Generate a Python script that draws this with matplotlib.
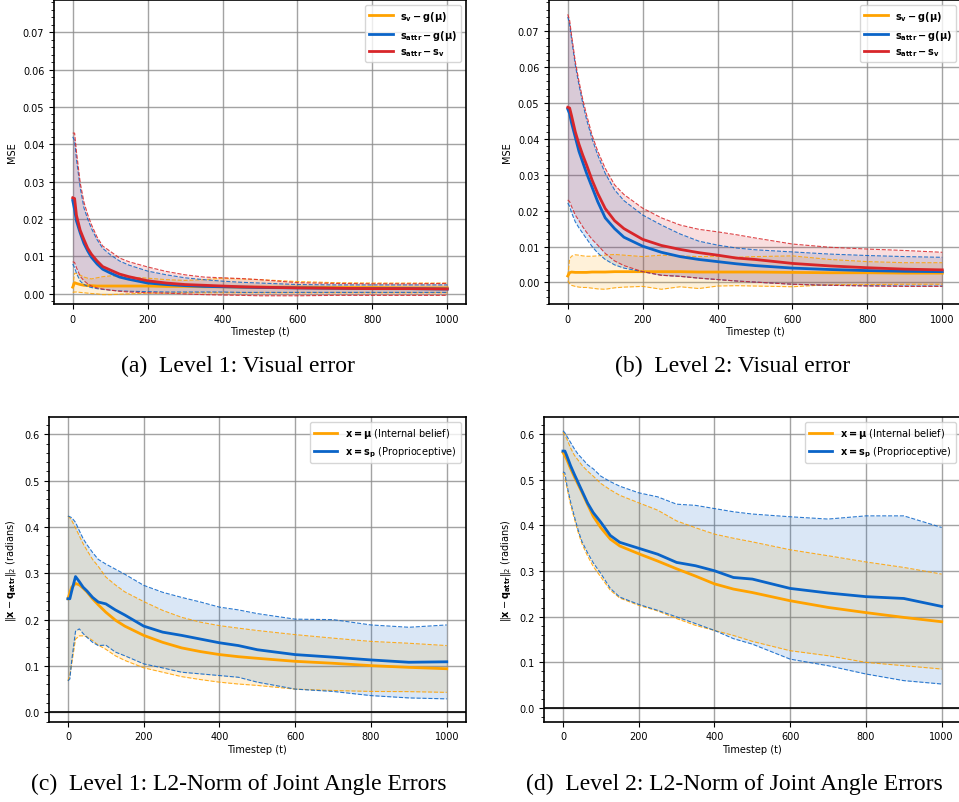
import matplotlib
matplotlib.use("Agg")
import matplotlib.pyplot as plt
from matplotlib.ticker import AutoMinorLocator

# timesteps at which the curves were sampled
t = [0, 5, 10, 20, 30, 40, 50, 65, 80, 100, 125, 150, 200, 250, 300, 350,
     400, 450, 500, 600, 700, 800, 900, 1000]

# Level 1 visual error (MSE): mean, min, max
a_sv_g = [.0018, .0030, .0028, .0025, .0023, .0022, .0022, .0021, .0021, .0021, .0021, .0021,
          .0021, .0020, .0020, .0019, .0019, .0018, .0018, .0018, .0017, .0017, .0016, .0016]
a_sv_g_lo = [.0004, .0005, .0005, .0004, .0003, .0002, .0001, .0000, -.0002, -.0002, -.0001, .0000,
             .0002, .0002, .0003, .0003, .0003, .0003, .0003, .0003, .0003, .0003, .0003, .0003]
a_sv_g_hi = [.0020, .0055, .0055, .0050, .0045, .0042, .0040, .0043, .0046, .0048, .0047, .0045,
             .0042, .0038, .0036, .0038, .0042, .0040, .0038, .0033, .0030, .0029, .0029, .0029]
a_sattr_g = [.0250, .0225, .0195, .0163, .0135, .0115, .0098, .0080, .0066, .0056, .0045, .0039,
             .0029, .0025, .0022, .0020, .0019, .0018, .0017, .0016, .0015, .0014, .0014, .0013]
a_sattr_g_lo = [.0080, .0070, .0055, .0034, .0025, .0020, .0017, .0014, .0012, .0010, .0008, .0007,
                .0006, .0005, .0005, .0005, .0005, .0004, .0004, .0004, .0004, .0004, .0004, .0004]
a_sattr_g_hi = [.0420, .0410, .0360, .0284, .0230, .0200, .0175, .0145, .0122, .0105, .0088, .0077,
                .0061, .0051, .0043, .0038, .0034, .0031, .0029, .0025, .0024, .0024, .0024, .0024]
a_sattr_sv = [.0257, .0255, .0210, .0170, .0145, .0122, .0106, .0088, .0073, .0064, .0053, .0046,
              .0035, .0029, .0025, .0023, .0021, .0019, .0018, .0016, .0015, .0014, .0014, .0013]
a_sattr_sv_lo = [.0086, .0084, .0070, .0047, .0035, .0027, .0021, .0016, .0013, .0010, .0007, .0005,
                 .0003, .0002, .0000, -.0002, -.0003, -.0004, -.0005, -.0005, -.0004, -.0004, -.0004, -.0004]
a_sattr_sv_hi = [.0430, .0430, .0380, .0297, .0245, .0212, .0185, .0152, .0128, .0114, .0096, .0086,
                 .0072, .0060, .0051, .0045, .0043, .0041, .0038, .0030, .0028, .0027, .0027, .0028]

# Level 2 visual error (MSE)
b_sv_g = [.0018, .0027, .0029, .0028, .0028, .0028, .0028, .0029, .0029, .0029, .0030, .0030,
          .0030, .0030, .0030, .0029, .0029, .0029, .0029, .0028, .0027, .0027, .0026, .0026]
b_sv_g_lo = [.0005, -.0003, -.0008, -.0011, -.0013, -.0014, -.0014, -.0016, -.0018, -.0019, -.0015, -.0013,
             -.0011, -.0019, -.0012, -.0017, -.0010, -.0009, -.0010, -.0012, -.0006, -.0006, -.0005, -.0005]
b_sv_g_hi = [.0019, .0065, .0073, .0077, .0076, .0074, .0073, .0073, .0074, .0076, .0078, .0076,
             .0072, .0076, .0074, .0072, .0073, .0070, .0072, .0074, .0064, .0058, .0055, .0055]
b_sattr_g = [.0483, .0470, .0445, .0405, .0365, .0335, .0305, .0265, .0225, .0180, .0150, .0126,
             .0101, .0084, .0072, .0064, .0058, .0052, .0047, .0040, .0036, .0033, .0031, .0030]
b_sattr_g_lo = [.0221, .0212, .0195, .0169, .0152, .0137, .0122, .0100, .0082, .0064, .0049, .0040,
                .0030, .0020, .0017, .0012, .0008, .0004, .0001, -.0005, -.0008, -.0009, -.0010, -.0010]
b_sattr_g_hi = [.0740, .0720, .0680, .0607, .0550, .0500, .0455, .0400, .0355, .0304, .0258, .0228,
                .0188, .0160, .0135, .0115, .0104, .0096, .0091, .0085, .0079, .0075, .0072, .0070]
b_sattr_sv = [.0488, .0486, .0465, .0420, .0385, .0355, .0328, .0285, .0248, .0206, .0172, .0150,
              .0120, .0103, .0092, .0083, .0076, .0068, .0064, .0053, .0046, .0041, .0037, .0035]
b_sattr_sv_lo = [.0230, .0225, .0212, .0188, .0172, .0155, .0140, .0120, .0104, .0081, .0060, .0047,
                 .0030, .0020, .0017, .0012, .0008, .0004, .0001, -.0005, -.0008, -.0010, -.0011, -.0011]
b_sattr_sv_hi = [.0747, .0730, .0690, .0616, .0560, .0510, .0468, .0410, .0366, .0318, .0272, .0245,
                 .0207, .0180, .0160, .0148, .0141, .0133, .0124, .0107, .0098, .0093, .0089, .0084]

# Level 1 joint angle error norm (radians)
c_mu = [.245, .258, .270, .278, .275, .268, .260, .245, .232, .216, .199, .186,
        .166, .151, .139, .131, .1246, .120, .1165, .110, .1058, .1007, .097, .094]
c_mu_lo = [.068, .080, .105, .158, .165, .165, .163, .155, .145, .136, .122, .112,
           .096, .0865, .077, .0706, .065, .061, .058, .050, .047, .045, .0446, .043]
c_mu_hi = [.4236, .420, .414, .398, .381, .364, .350, .330, .315, .292, .275, .260,
           .239, .220, .205, .1945, .187, .1816, .1765, .1676, .160, .153, .149, .144]
c_sp = [.245, .245, .262, .293, .282, .270, .262, .248, .238, .234, .221, .210,
        .186, .173, .166, .158, .150, .144, .135, .1245, .119, .113, .108, .109]
c_sp_lo = [.068, .072, .112, .175, .180, .170, .162, .151, .144, .145, .130, .122,
           .1045, .0958, .0865, .0829, .0793, .0756, .065, .050, .045, .036, .031, .029]
c_sp_hi = [.4236, .422, .420, .410, .392, .375, .362, .345, .330, .320, .309, .298,
           .274, .259, .248, .238, .227, .221, .213, .201, .200, .1885, .1835, .1885]

# Level 2 joint angle error norm (radians)
d_mu = [.560, .553, .545, .525, .507, .490, .473, .446, .420, .395, .370, .355,
        .338, .322, .305, .289, .272, .2606, .253, .235, .2204, .209, .1985, .189]
d_mu_lo = [.515, .505, .485, .445, .415, .385, .360, .333, .310, .287, .258, .241,
           .225, .2127, .196, .181, .170, .159, .146, .1255, .1146, .100, .0927, .0854]
d_mu_hi = [.605, .598, .590, .570, .554, .543, .532, .519, .508, .492, .478, .466,
           .4496, .4335, .410, .395, .381, .372, .364, .3467, .3336, .320, .308, .2934]
d_sp = [.563, .563, .553, .531, .512, .494, .476, .449, .428, .407, .378, .363,
        .350, .337, .319, .3117, .3007, .286, .2825, .262, .252, .244, .240, .2226]
d_sp_lo = [.5175, .515, .490, .452, .420, .390, .365, .340, .318, .2946, .262, .243,
           .227, .214, .1996, .185, .170, .152, .140, .107, .0927, .0745, .060, .0526]
d_sp_hi = [.6075, .603, .596, .582, .568, .556, .547, .533, .524, .508, .496, .486,
           .4715, .4627, .4466, .444, .437, .430, .425, .419, .414, .421, .421, .3956]

ORANGE = '#ffa200'
BLUE = '#0a64c8'
RED = '#d8262a'

visual_labels = [r'$\mathbf{s_v - g(\mu)}$', r'$\mathbf{s_{attr} - g(\mu)}$', r'$\mathbf{s_{attr} - s_v}$']
joint_labels = [r'$\mathbf{x = \mu}$ (Internal belief)', r'$\mathbf{x = s_p}$ (Proprioceptive)']


def draw_band(ax, mean, lo, hi, color, label):
    ax.fill_between(t, lo, hi, color=color, alpha=0.15, linewidth=0)
    ax.plot(t, lo, '--', color=color, linewidth=0.8, alpha=0.85)
    ax.plot(t, hi, '--', color=color, linewidth=0.8, alpha=0.85)
    ax.plot(t, mean, color=color, linewidth=2.0, label=label)


def style_axes(ax, ylim):
    ax.set_xlim(-50, 1050)
    ax.set_ylim(*ylim)
    ax.set_xticks([0, 200, 400, 600, 800, 1000])
    ax.yaxis.set_minor_locator(AutoMinorLocator())
    ax.grid(True, color='#8c8c8c', linewidth=1.0, alpha=0.8)
    ax.set_axisbelow(True)
    ax.tick_params(labelsize=7)
    ax.set_xlabel('Timestep (t)', fontsize=7, labelpad=2)
    for sp in ax.spines.values():
        sp.set_linewidth(1.2)
    ax.legend(loc='upper right', fontsize=7, handlelength=2.4)


fig = plt.figure(figsize=(9.59, 8.03), dpi=100)

# (a) Level 1 visual error
ax = fig.add_axes([0.0563, 0.6202, 0.4296, 0.3786])
draw_band(ax, a_sv_g, a_sv_g_lo, a_sv_g_hi, ORANGE, visual_labels[0])
draw_band(ax, a_sattr_g, a_sattr_g_lo, a_sattr_g_hi, BLUE, visual_labels[1])
draw_band(ax, a_sattr_sv, a_sattr_sv_lo, a_sattr_sv_hi, RED, visual_labels[2])
ax.set_ylabel('MSE', fontsize=7)
style_axes(ax, (-0.0027, 0.0786))

# (b) Level 2 visual error
ax = fig.add_axes([0.5725, 0.6202, 0.4296, 0.3786])
draw_band(ax, b_sv_g, b_sv_g_lo, b_sv_g_hi, ORANGE, visual_labels[0])
draw_band(ax, b_sattr_g, b_sattr_g_lo, b_sattr_g_hi, BLUE, visual_labels[1])
draw_band(ax, b_sattr_sv, b_sattr_sv_lo, b_sattr_sv_hi, RED, visual_labels[2])
ax.set_ylabel('MSE', fontsize=7)
style_axes(ax, (-0.006, 0.0787))

norm_label = r'$\|\mathbf{x} - \mathbf{q}_{\mathbf{attr}}\|_2$ (radians)'

# (c) Level 1 joint angle errors
ax = fig.add_axes([0.0511, 0.1000, 0.4345, 0.3791])
draw_band(ax, c_mu, c_mu_lo, c_mu_hi, ORANGE, joint_labels[0])
draw_band(ax, c_sp, c_sp_lo, c_sp_hi, BLUE, joint_labels[1])
ax.axhline(0, color='black', linewidth=1.2)
ax.set_ylabel(norm_label, fontsize=7)
style_axes(ax, (-0.0203, 0.6367))

# (d) Level 2 joint angle errors
ax = fig.add_axes([0.5673, 0.1000, 0.4344, 0.3791])
draw_band(ax, d_mu, d_mu_lo, d_mu_hi, ORANGE, joint_labels[0])
draw_band(ax, d_sp, d_sp_lo, d_sp_hi, BLUE, joint_labels[1])
ax.axhline(0, color='black', linewidth=1.2)
ax.set_ylabel(norm_label, fontsize=7)
style_axes(ax, (-0.030, 0.637))

# sub-figure captions
cap = dict(fontsize=17, family='Liberation Serif', ha='center', va='center')
fig.text(238 / 959, 1 - 366 / 803, '(a)  Level 1: Visual error', **cap)
fig.text(733 / 959, 1 - 366 / 803, '(b)  Level 2: Visual error', **cap)
fig.text(239 / 959, 1 - 784 / 803, '(c)  Level 1: L2-Norm of Joint Angle Errors', **cap)
fig.text(734 / 959, 1 - 784 / 803, '(d)  Level 2: L2-Norm of Joint Angle Errors', **cap)

fig.savefig('out.png', dpi=100)
